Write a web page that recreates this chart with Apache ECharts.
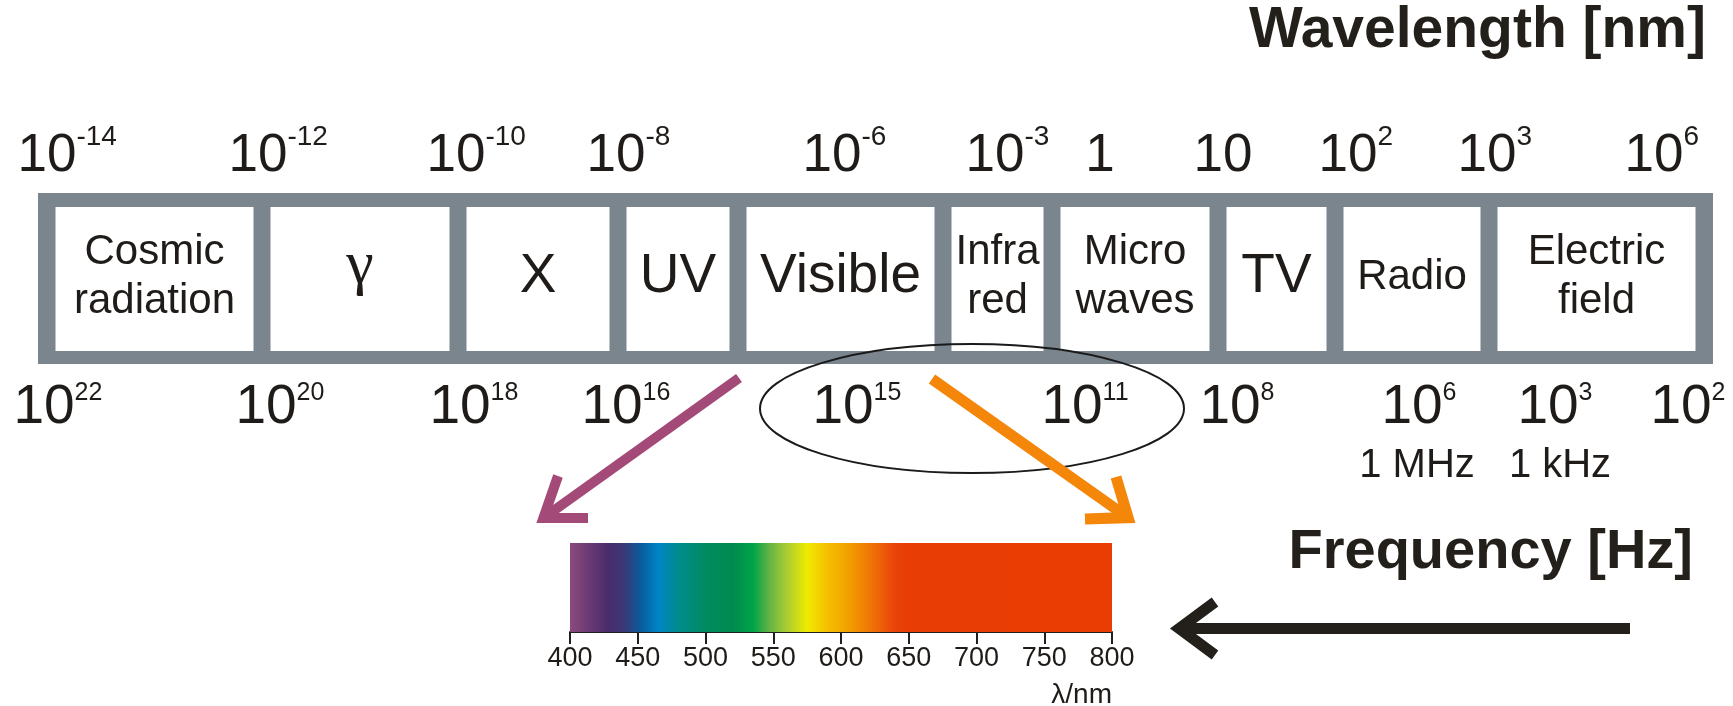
<!DOCTYPE html>
<html>
<head>
<meta charset="utf-8">
<script src="https://cdn.jsdelivr.net/npm/echarts@6/dist/echarts.min.js"></script>
<style>
html,body{margin:0;padding:0;background:#ffffff;}
#chart{width:1733px;height:706px;}
</style>
</head>
<body>
<div id="chart"></div>
<script>
// ===================== DATA =====================
// Spectral bands (left to right) and the band boundaries on the schematic axis
const bandNames = ['Cosmic\nradiation', 'γ', 'X', 'UV', 'Visible', 'Infra\nred', 'Micro\nwaves', 'TV', 'Radio', 'Electric\nfield'];
const bandEdges = [47, 262, 458, 618, 738, 943, 1052, 1218, 1335, 1489, 1704];

// Wavelength scale (top) – label text and where it sits on the schematic axis
const wavelengthLabels = ['10^-14', '10^-12', '10^-10', '10^-8', '10^-6', '10^-3', '1', '10', '10^2', '10^3', '10^6'];
const wavelengthLabelPos = [47, 258, 456, 616, 832, 995, 1100, 1223, 1348, 1487, 1654];

// Frequency scale (bottom)
const frequencyLabels = ['10^22', '10^20', '10^18', '10^16', '10^15', '10^11', '10^8', '10^6', '10^3', '10^2'];
const frequencyLabelPos = [44, 266, 460, 612, 843, 1072, 1230, 1412, 1548, 1681];
const frequencyNotes = ['1 MHz', '1 kHz'];
const frequencyNotePos = [1417, 1560];

// Visible spectrum: wavelength (nm) -> colour
const spectrumWavelengths = [400, 414, 428, 440, 452, 465, 480, 500, 520, 535, 548, 560, 575, 588, 605, 620, 640, 650, 800];
const spectrumColors = ['#8c4a7c', '#6a3a74', '#4a2c6c', '#3b3876', '#0a5a9c', '#0085c6', '#008b8e', '#008b60', '#008a50', '#00a348', '#6ab544', '#a9cc34', '#f0eb00', '#f5c400', '#f2a000', '#ef7a05', '#e9420a', '#e83d05', '#e93d03'];
const spectrumMin = 400, spectrumMax = 800, spectrumStep = 50;

// Annotation shapes on the schematic axis
const focusEllipse = { cx: 972, cy: 408.5, rx: 212, ry: 64.5 };
const purpleArrow = { from: [739, 378], tip: [535, 524], wingA: [558, 476], wingB: [588, 518] };
const orangeArrow = { from: [932, 379], tip: [1137, 524], wingA: [1116, 477], wingB: [1085, 519] };
const blackArrow = { from: [1630, 628.5], tip: [1168, 628.5], wingA: [1215, 602], wingB: [1215, 655] };

// ===================== LAYOUT / STYLE =====================
const W = 1733, H = 706;
const FONT = "'Liberation Sans', Arial, Helvetica, sans-serif";
const TXT = '#1f1b18';
const GRAY = '#7b858e';
const L = {
  frameTop: 193, frameBottom: 364, innerTop: 207, innerBottom: 351,
  outerHalf: 9, divHalf: 8.5, bandTextY: 277,
  topMainY: 156, topSupY: 137.5, topMainFs: 53, topSupFs: 28,
  botMainY: 407.5, botSupY: 393.5, botMainFs: 55, botSupFs: 25,
  noteY: 466, noteFs: 40
};

function parseLabel(s) {
  const p = s.split('^');
  return { base: p[0], exp: p[1] || '' };
}

function powerLabel(api, pos, label, yMain, ySup, fsMain, fsSup) {
  const lb = parseLabel(label);
  const pm = api.coord([pos, yMain]);
  const ps = api.coord([pos, ySup]);
  const mainW = lb.base.length * 0.556 * fsMain;
  const els = [{
    type: 'text',
    style: { text: lb.base, x: pm[0], y: pm[1], align: 'center', verticalAlign: 'middle',
      fontSize: fsMain, fontFamily: FONT, fill: TXT }
  }];
  if (lb.exp) {
    els.push({
      type: 'text',
      style: { text: lb.exp, x: pm[0] + mainW / 2, y: ps[1], align: 'left', verticalAlign: 'middle',
        fontSize: fsSup, fontFamily: FONT, fill: TXT }
    });
  }
  return { type: 'group', children: els };
}

// Open chevron arrow; the "tip" is the outer point of the mitred corner
function arrowItem(api, a, color, width) {
  const f = api.coord(a.from), t = api.coord(a.tip), wa = api.coord(a.wingA), wb = api.coord(a.wingB);
  const ua = [wa[0] - t[0], wa[1] - t[1]], ub = [wb[0] - t[0], wb[1] - t[1]];
  const la = Math.hypot(ua[0], ua[1]), lb = Math.hypot(ub[0], ub[1]);
  ua[0] /= la; ua[1] /= la; ub[0] /= lb; ub[1] /= lb;
  let bis = [ua[0] + ub[0], ua[1] + ub[1]];
  const lbis = Math.hypot(bis[0], bis[1]);
  bis = [bis[0] / lbis, bis[1] / lbis];
  const half = Math.acos(Math.max(-1, Math.min(1, ua[0] * ub[0] + ua[1] * ub[1]))) / 2;
  const off = (width / 2) / Math.sin(half);
  const v = [t[0] + bis[0] * off, t[1] + bis[1] * off];
  return {
    type: 'group',
    children: [
      { type: 'line', shape: { x1: f[0], y1: f[1], x2: v[0], y2: v[1] },
        style: { stroke: color, lineWidth: width, lineCap: 'butt' }, z2: 5 },
      { type: 'polyline', shape: { points: [wa, v, wb] },
        style: { stroke: color, lineWidth: width, lineJoin: 'miter', miterLimit: 10, lineCap: 'butt', fill: null }, z2: 5 }
    ]
  };
}

const chart = echarts.init(document.getElementById('chart'), null, { renderer: 'canvas', width: W, height: H });

const stops = spectrumWavelengths.map((w, i) => ({
  offset: (w - spectrumMin) / (spectrumMax - spectrumMin),
  color: spectrumColors[i]
}));

const option = {
  backgroundColor: '#ffffff',
  animation: false,
  grid: [
    { left: 0, top: 0, width: W, height: H, outerBoundsMode: 'none', containLabel: false },
    { left: 570, top: 543, width: 542, height: 89, outerBoundsMode: 'none', containLabel: false }
  ],
  xAxis: [
    { type: 'value', gridIndex: 0, min: 0, max: W, show: false },
    {
      type: 'value', gridIndex: 1, min: spectrumMin, max: spectrumMax, interval: spectrumStep,
      axisLine: { show: true, lineStyle: { color: '#231f20', width: 2 } },
      axisTick: { show: true, length: 12, lineStyle: { color: '#231f20', width: 2 } },
      axisLabel: { show: true, margin: 13, fontSize: 27, fontFamily: FONT, color: TXT },
      splitLine: { show: false }
    }
  ],
  yAxis: [
    { type: 'value', gridIndex: 0, min: 0, max: H, inverse: true, show: false },
    { type: 'value', gridIndex: 1, min: 0, max: 1, show: false }
  ],
  series: [
    // Gray outer frame
    {
      type: 'custom', xAxisIndex: 0, yAxisIndex: 0, silent: true,
      data: [[bandEdges[0], bandEdges[bandEdges.length - 1]]],
      renderItem: function (params, api) {
        const p0 = api.coord([api.value(0) - L.outerHalf, L.frameTop]);
        const p1 = api.coord([api.value(1) + L.outerHalf, L.frameBottom]);
        return { type: 'rect', shape: { x: p0[0], y: p0[1], width: p1[0] - p0[0], height: p1[1] - p0[1] },
          style: { fill: GRAY }, z2: 0 };
      }
    },
    // White band boxes with names
    {
      type: 'custom', xAxisIndex: 0, yAxisIndex: 0, silent: true,
      data: bandNames.map((n, i) => [bandEdges[i], bandEdges[i + 1]]),
      renderItem: function (params, api) {
        const i = params.dataIndex;
        const name = bandNames[i];
        const x0 = api.value(0), x1 = api.value(1);
        const p0 = api.coord([x0 + L.divHalf, L.innerTop]);
        const p1 = api.coord([x1 - L.divHalf, L.innerBottom]);
        const pc = api.coord([(x0 + x1) / 2, L.bandTextY]);
        const twoLine = name.indexOf('\n') >= 0;
        let ts;
        if (name === 'γ') {
          ts = { text: name, x: pc[0], y: pc[1] - 10, align: 'center', verticalAlign: 'middle',
            fontSize: 62, fontFamily: "'Liberation Serif', 'Times New Roman', serif", fill: TXT };
        } else {
          ts = { text: name, x: pc[0], y: pc[1], align: 'center', verticalAlign: 'middle',
            fontSize: twoLine || name === 'Radio' ? 42 : 55, lineHeight: 49, fontFamily: FONT, fill: TXT };
        }
        return {
          type: 'group',
          children: [
            { type: 'rect', shape: { x: p0[0], y: p0[1], width: p1[0] - p0[0], height: p1[1] - p0[1] },
              style: { fill: '#ffffff' }, z2: 1 },
            { type: 'text', style: ts, z2: 2 }
          ]
        };
      }
    },
    // Wavelength labels (top)
    {
      type: 'custom', xAxisIndex: 0, yAxisIndex: 0, silent: true,
      data: wavelengthLabelPos.map(p => [p]),
      renderItem: function (params, api) {
        return powerLabel(api, api.value(0), wavelengthLabels[params.dataIndex], L.topMainY, L.topSupY, L.topMainFs, L.topSupFs);
      }
    },
    // Frequency labels (bottom)
    {
      type: 'custom', xAxisIndex: 0, yAxisIndex: 0, silent: true,
      data: frequencyLabelPos.map(p => [p]),
      renderItem: function (params, api) {
        return powerLabel(api, api.value(0), frequencyLabels[params.dataIndex], L.botMainY, L.botSupY, L.botMainFs, L.botSupFs);
      }
    },
    // 1 MHz / 1 kHz notes
    {
      type: 'custom', xAxisIndex: 0, yAxisIndex: 0, silent: true,
      data: frequencyNotePos.map(p => [p]),
      renderItem: function (params, api) {
        const p = api.coord([api.value(0), L.noteY]);
        return { type: 'text', style: { text: frequencyNotes[params.dataIndex], x: p[0], y: p[1], align: 'center',
          verticalAlign: 'middle', fontSize: L.noteFs, fontFamily: FONT, fill: TXT } };
      }
    },
    // Titles, ellipse, arrows, λ/nm
    {
      type: 'custom', xAxisIndex: 0, yAxisIndex: 0, silent: true,
      data: [[0]],
      renderItem: function (params, api) {
        const c = api.coord([focusEllipse.cx, focusEllipse.cy]);
        const r = api.size([focusEllipse.rx, focusEllipse.ry]);
        const tw = api.coord([1706, 31.5]);
        const tf = api.coord([1693, 552.5]);
        const tl = api.coord([1112, 695]);
        return {
          type: 'group',
          children: [
            { type: 'text', style: { text: 'Wavelength [nm]', x: tw[0], y: tw[1], align: 'right', verticalAlign: 'middle',
              fontSize: 57, fontWeight: 'bold', fontFamily: FONT, fill: '#231f1a' } },
            { type: 'text', style: { text: 'Frequency [Hz]', x: tf[0], y: tf[1], align: 'right', verticalAlign: 'middle',
              fontSize: 56, fontWeight: 'bold', fontFamily: FONT, fill: '#231f1a' } },
            { type: 'text', style: { text: 'λ/nm', x: tl[0], y: tl[1], align: 'right', verticalAlign: 'middle',
              fontSize: 28, fontFamily: FONT, fill: TXT } },
            { type: 'ellipse', shape: { cx: c[0], cy: c[1], rx: r[0], ry: r[1] },
              style: { fill: null, stroke: '#1a1a1a', lineWidth: 2 }, z2: 3 },
            arrowItem(api, purpleArrow, '#a44a78', 10),
            arrowItem(api, orangeArrow, '#f4860a', 11),
            arrowItem(api, blackArrow, '#231f1a', 11)
          ]
        };
      }
    },
    // Visible spectrum bar drawn on the wavelength axis
    {
      type: 'custom', xAxisIndex: 1, yAxisIndex: 1, silent: true,
      data: [[spectrumMin, spectrumMax]],
      renderItem: function (params, api) {
        const p0 = api.coord([api.value(0), 1]);
        const p1 = api.coord([api.value(1), 0]);
        return { type: 'rect', shape: { x: p0[0], y: p0[1], width: p1[0] - p0[0], height: p1[1] - p0[1] },
          style: { fill: new echarts.graphic.LinearGradient(0, 0, 1, 0, stops) } };
      }
    }
  ]
};

chart.setOption(option);
</script>
</body>
</html>
